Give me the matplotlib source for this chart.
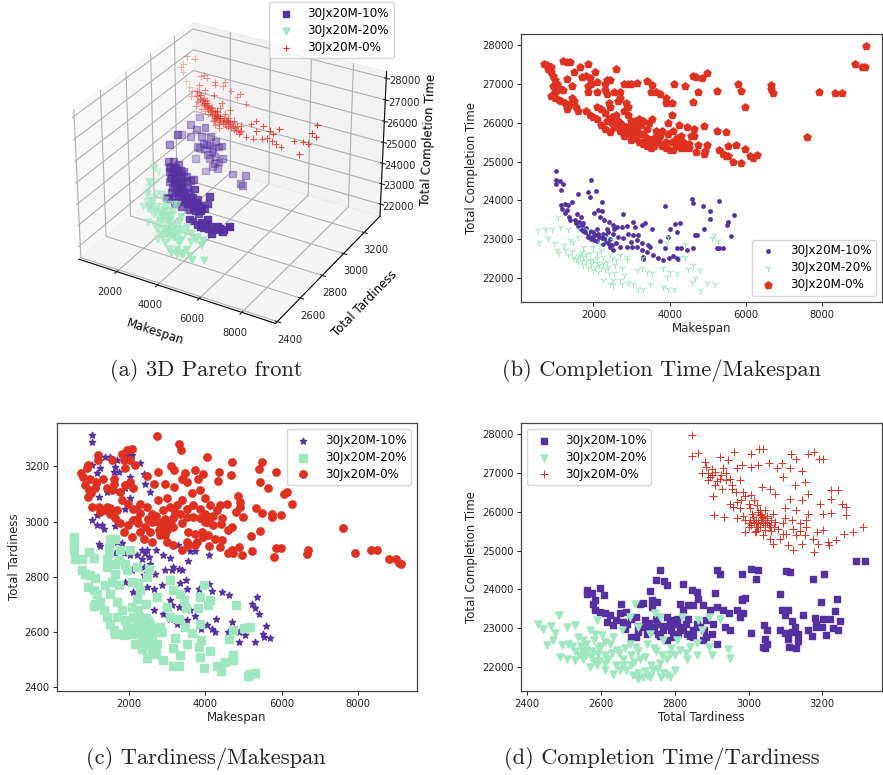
import numpy as np
import matplotlib
matplotlib.use('Agg')
import matplotlib.pyplot as plt

PURPLE = '#5530a0'
GREEN = '#9fe8bf'
RED = '#e03020'
NAMES = ['30Jx20M-10%', '30Jx20M-20%', '30Jx20M-0%']

# panel a: makespan, tardiness, completion time
a_purple = [(1053,3250,24443),(1148,3150,24528),(1360,3000,24798),(1456,3150,24377),(1895,3150,24597),(2163,3150,24244),(1848,3150,23535),(1598,3150,23559),(1984,3150,23812),(2421,3150,24079),
    (2584,3150,23839),(2249,3150,23506),(2759,3150,23317),(2376,3150,22970),(1902,3150,22454),(2119,3150,23135),(2536,3150,22777),(2728,3150,23928),(3289,3150,22705),(3935,3150,22793),
    (3708,3150,22347),(3811,3150,22281),(1379,3150,22925),(1496,3150,23578),(1128,3150,23950),(679,3150,23918),(940,3000,24200),(1192,2950,23658),(1439,2950,23728),(1692,2950,23657),
    (1215,2950,23188),(1462,2950,23258),(1715,2950,23187),(1955,2950,23398),(1239,2950,22718),(1493,2950,22647),(1739,2950,22717),(2115,2950,23205),(2467,2950,23162),(2399,2800,23019),
    (2059,2800,22827),(2416,2800,22690),(2719,2800,22633),(3057,2800,22872),(3286,2800,23271),(3538,2800,23247),(3710,2800,22819),(4042,2800,23152),(4122,2800,23556),(3573,2800,22542),
    (4368,2700,22637),(4267,2700,22656),(4596,2700,23083),(5105,2700,22894),(5314,2700,22715),(5647,2700,23048),(5358,2700,22823),(3861,2700,22779),(4613,2700,22650),(4777,2700,22467),
    (3708,2700,22831),(3303,2800,22942),(3367,2800,23675),(3446,2800,23078),(3557,2800,22871),(3664,2800,22711),(3418,2800,22641),(1933,2850,22834),(2278,2850,22932),(2525,2850,23002),
    (2759,2850,23307),(2107,2850,23360),(2419,2850,23115),(1650,2850,22515),(2055,2850,22392),(1300,2950,23450),(1550,2950,23500),(1800,2950,23400),(1350,2950,22950),(1600,2950,23000),
    (1850,2950,22900),(2000,2900,23100),(2250,2880,23000),(2600,2830,22800),(2900,2820,22750),(3200,2790,22700),(3500,2770,22900),(1250,2950,23400),(1450,2950,23400),(1650,2950,23350),
    (1850,2950,23300),(1350,2950,23100),(1550,2950,23100),(1800,2950,23050),(1300,2950,22850),(1500,2950,22850),(1700,2950,22850),(1900,2950,22900),(2100,2950,23000),(2300,2950,23050),
    (2000,2850,23100),(2200,2850,23100),(2400,2850,23000),(2600,2850,22900),(2800,2850,23100),(2900,2850,22950),(2300,2850,22750),(2600,2850,22600),(3000,2800,23100),(3200,2800,23000),
    (3400,2800,22900),(3500,2800,23000),(3600,2800,22700),(3300,2800,22800),(3700,2800,23000),(3900,2800,22900),(4500,2700,22800),(4800,2700,22800),(5000,2700,22700),(5200,2700,22850),
    (4300,2700,22850),(4100,2700,22700),(2100,3150,23800),(2300,3150,23700),(1800,3150,23800),(2000,3150,23300),(2400,3150,23300),(2600,3150,23100),(2250,3150,22800),(1700,3150,24100)]
a_green = [(1086,2850,23785),(874,2850,23010),(701,2850,22484),(1104,2750,22413),(1323,2750,23052),(1440,2750,23705),(984,2900,23320),(726,2900,23485),(859,2900,22808),(787,2850,22780),
    (959,2850,22319),(1358,2750,22347),(1616,2750,22182),(1886,2750,21782),(2120,2750,22087),(2918,2650,22137),(3430,2650,21901),(4223,2550,22040),(4728,2550,21945),(4457,2550,22345),
    (5186,2550,22790),(5300,2550,22100),(3149,2650,22536),(2878,2650,22936),(3402,2650,22465),(3888,2650,22746),(4404,2650,22416),(4071,2650,22083),(4658,2650,22345),(2679,2650,21926),
    (2416,2650,22185),(3619,2550,22107),(3976,2550,21970),(2332,2750,22862),(2825,2750,23002),(2062,2750,23262),(1646,2750,21700),(1647,2700,22055),(2439,2650,21715),(2372,2750,22063),
    (2595,2750,22603),(3618,2650,23146),(2677,2750,22960),(3531,2650,22883),(1500,2750,22600),(1750,2750,22450),(2000,2750,22350),(2250,2700,22300),(2500,2700,22200),(2750,2700,22400),
    (3000,2650,22250),(3250,2650,22100),(3500,2600,22400),(3800,2600,22250),(2200,2750,22550),(1900,2800,22700),(1500,2800,22900),(1250,2800,22500),(3100,2600,22000),(4000,2580,22500),
    (1400,2750,22500),(1500,2750,22350),(1700,2750,22300),(1850,2750,22150),(2000,2750,22200),(2150,2750,22250),(2300,2750,22150),(2450,2750,22350),(2600,2750,22450),(1300,2750,22700),
    (1600,2750,22800),(1800,2750,22600),(2000,2750,22500),(2200,2750,22700),(2400,2750,22600),(2700,2650,22300),(2900,2650,22350),(3100,2650,22300),(3300,2650,22200),(3500,2650,22250),
    (2600,2650,22000),(2800,2650,22050),(3000,2650,21950),(3300,2650,22650),(3600,2650,22550),(3800,2650,22450),(4100,2650,22500),(4300,2650,22250),(3700,2550,21950),(4000,2550,22200),
    (4300,2550,22150),(4600,2550,22100)]
a_red = [(830,3180,27600),(650,3180,27200),(510,3180,27000),(620,3180,26800),(790,3180,26400),(950,3180,26200),(1060,3180,26000),(1230,3180,27600),(2082,3050,26856),(2242,3050,26664),
    (2352,3050,26457),(2508,3050,26358),(2660,3050,26306),(2770,3050,26099),(2925,3050,26000),(2218,3050,27134),(2477,3050,26969),(2155,3050,26401),(2019,3050,26124),(3481,2980,26577),
    (3641,2980,26384),(3752,2980,26177),(3882,2980,26548),(4054,2980,26120),(4256,2980,26082),(4416,2980,25889),(4570,2980,25790),(4662,2980,25959),(3910,2980,25984),(3561,2980,25980),
    (4122,2980,26759),(3712,2980,26976),(3347,2980,27254),(2180,3100,27402),(2697,3100,27072),(3185,3100,27306),(3952,3100,26952),(4223,3100,26552),(5557,2900,26859),(5797,2900,27070),
    (6153,2900,26933),(6329,2900,26411),(6450,2900,26800),(6600,2900,26700),(6900,2900,27000),(7000,2900,26200),(6750,2900,26250),(7600,2900,26650),(7850,2900,26100),(8000,2900,26700),
    (8250,2900,26700),(8400,2900,27200),(8600,2900,27100),(8650,2900,27650),(5339,2900,26225),(5820,2900,26600),(6083,2900,26341),(5688,2900,26229),(6583,2900,26340),(2413,3050,26236),
    (2566,3050,26184),(2716,3050,26179),(2813,3050,26254),(2979,3050,25920),(3082,3050,25854),(3237,3050,25755),(2598,3050,26527),(2447,3050,26579),(2892,3050,25657),(4040,2980,26402),
    (4294,2980,26331),(4453,2980,26138),(4650,2980,26194),(3949,2980,26233),(3622,2980,26760),(3382,2980,26549),(1300,3180,25900),(1500,3180,25750),(1750,3180,25500),(2000,3180,25300),
    (1400,3120,26100),(1700,3120,25900),(2300,3050,26050),(2500,3050,26000),(2650,3050,25900),(2850,3050,25850),(3000,3050,25800),(3200,3000,25950),(3400,2980,25900),(3600,2980,25800),
    (2300,3050,26700),(2400,3050,26500),(2500,3050,26450),(2600,3050,26400),(2700,3050,26250),(2800,3050,26200),(2900,3050,26100),(3000,3050,26000),(3100,3050,25950),(2350,3050,26300),
    (2450,3050,26350),(2550,3050,26250),(2650,3050,26150),(2750,3050,26000),(2850,3050,25950),(2950,3050,25800),(3150,3050,25800),(2200,3050,26800),(2100,3050,26600),(2250,3050,26500),
    (3500,2980,26500),(3650,2980,26300),(3800,2980,26300),(3900,2980,26250),(4000,2980,26200),(4100,2980,26200),(4200,2980,26150),(4350,2980,26050),(4500,2980,25950),(3600,2980,26100),
    (3750,2980,26050),(3850,2980,26100),(4000,2980,25950),(4150,2980,25950),(4300,2980,25900),(3450,2980,26250),(3550,2980,26350),(4600,2980,25900),(2000,3150,27000),(2400,3150,26900),
    (2800,3150,26800),(3200,3150,26700),(3500,3150,26500),(1700,3150,27000)]

# panel b: makespan, completion time
b_purple = [(1020,24750),(1020,24520),(1130,24500),(1020,24420),(1210,24420),(1150,24260),(1940,24510),(1870,24220),(1910,24090),(2080,24240),(1590,24150),(2220,23950),(1150,23890),(1260,23900),(1430,23960),
    (1340,23880),(1170,23770),(1300,23750),(1260,23680),(1370,23570),(1580,23640),(1690,23570),(1390,23490),(1520,23490),(1630,23450),(1740,23400),(1610,23320),(1690,23270),(1780,23190),(1870,23140),
    (1960,23060),(2000,23190),(2090,23270),(2020,22970),(2130,23140),(2020,23660),(2130,23750),(2240,23730),(2170,23570),(2280,23490),(2420,23450),(2520,23360),(2610,23320),(2770,23640),(2740,23320),
    (2870,23330),(3030,23450),(3090,23320),(3270,23360),(3350,23400),(3530,23250),(3750,22960),(3880,23850),(3960,23060),(4010,23260),(4140,23380),(4270,23420),(4200,23170),(3880,22760),(4180,22780),
    (4290,22780),(4450,22710),(4620,22770),(4660,23090),(4710,23090),(4580,24030),(4620,23920),(4880,23860),(5060,23730),(5290,23970),(5060,23520),(4900,23270),(5690,23620),(5540,23450),(5510,23350),
    (5600,23080),(5230,22760),(5300,22760),(5400,22760),(3830,22470),(3990,22500),(3700,22520),(3570,22590),(3400,22670),(3270,22710),(3140,22800),(3010,22800),(2870,22800),(2700,22800),(2520,22710),
    (2440,22800),(2350,22930),(2220,23020),(2260,23140),(2390,23190),(2520,23140),(2650,23060),(2790,23020),(2920,23140),(3050,23100),(3180,23100),(3000,22930),(3140,22970),(3270,22890),(3440,22840),
    (3480,22800),(3290,22540),(3310,22480),(4100,22560),(4180,22500),(4230,22480),(1700,23350),(1800,23280),(1900,23200),(2050,23100),(2150,23050),(2300,23000),(2400,22880),(1850,23050),(2250,22870),
    (1730,23200),(1950,23000),(2100,22950),(2300,23100),(2450,23000),(2500,22850),(2600,22900),(2350,23250),(2550,23250),(1550,23400)]
b_green = [(560,23230),(585,22930),(730,23270),(910,23270),(825,23020),(960,22890),(1040,22710),(1090,22630),(1065,23570),(1130,23320),(1345,23270),(1610,23270),(1390,22970),(1220,22840),(1260,22710),
    (1480,22930),(1345,22590),(1480,22500),(1610,22410),(1740,22330),(1870,22240),(2000,22200),(2130,22150),(2260,21940),(2520,21940),(2520,21810),(2740,21850),(3050,21850),(3180,21720),(3310,21720),
    (3480,21850),(3830,21770),(3960,21720),(4110,21700),(4790,21680),(4990,21870),(5190,21850),(4660,21980),(4580,21900),(4790,22200),(4490,22220),(4620,22330),(4180,22110),(4010,22150),(3830,22240),
    (3920,22030),(3530,22110),(3400,22150),(3270,22240),(3140,22200),(2870,22460),(2740,22240),(2570,22330),(2390,22280),(2260,22370),(2090,22370),(1910,22460),(1740,22540),(1695,22670),(1910,22630),
    (2090,22630),(2260,22540),(2000,22800),(2170,22890),(2350,23060),(2520,22970),(2700,22590),(2870,22540),(3270,22500),(1610,23060),(1740,22800),(1870,23230),(5100,23020),(5160,23100),(5260,22960),
    (3960,23060),(3920,22890),(4400,22870),(4400,22530),(4270,22530),(1550,22480),(1800,22420),(2050,22280),(2300,22220),(2550,22120),(2800,22080),(1650,22600),(2200,22720),(2450,22620),(1450,22700),
    (1600,22550),(1800,22600),(1950,22350),(2200,22250),(2400,22120),(2600,22450),(2100,22500),(2350,22400),(2500,22500),(1700,22440),(2000,22450),(2150,22320),(2700,21950),(2900,21900),(2450,21830)]
b_red = [(700,27520),(780,27480),(880,27430),(800,27400),(900,27300),(950,27200),(1000,27100),(1050,27000),(1100,26900),(1000,26800),(950,26950),(1050,26850),(1200,26850),(900,26700),(1000,26650),
    (1100,26600),(1250,26500),(1300,26350),(1150,26550),(1450,26650),(1500,26550),(1350,26450),(1600,26300),(1550,26400),(1200,27600),(1300,27580),(1400,27580),(1650,27450),(1850,27520),(2050,27320),
    (1320,27120),(1500,27300),(1450,26950),(1700,27170),(1800,27200),(1900,27150),(2100,27050),(1950,27000),(1850,26950),(1850,26800),(2100,26800),(2350,27100),(2450,27100),(2300,27000),(2600,27400),
    (2300,26850),(2350,26750),(2550,26800),(2700,26800),(2800,27000),(2900,27000),(3000,27000),(3150,27030),(3400,27070),(3550,26970),(3500,26800),(3650,26800),(3750,26750),(3900,26650),(3900,26500),
    (4050,26500),(4120,27000),(4400,26950),(4600,27200),(4680,27170),(4850,27150),(4980,27280),(4750,26800),(4600,26530),(5230,26820),(5800,26990),(5860,26820),(5980,26400),(6650,26980),(6660,26870),
    (6720,26780),(7600,25630),(7920,26800),(8340,26780),(8510,26780),(8850,27510),(9050,27450),(9120,27430),(9150,27980),(1800,26300),(1900,26200),(2000,26150),(2100,26100),(2200,25950),(2300,25850),
    (2100,26400),(2200,26350),(2300,26250),(2400,26100),(2500,26000),(2600,25950),(2700,25800),(2800,25800),(2900,25900),(2450,25750),(2650,26050),(2750,25950),(2800,25650),(2950,25700),(3000,25550),
    (3100,25600),(3200,25500),(3300,25450),(3400,25400),(3500,25350),(3600,25400),(3150,25800),(3300,25700),(3400,25600),(3500,25550),(3600,25600),(3700,25500),(3800,25400),(3900,25350),(4000,25300),
    (4100,25300),(4200,25400),(4300,25350),(4400,25350),(4500,25350),(4700,25250),(4900,25200),(4930,25260),(3100,26050),(3200,26100),(3300,26050),(3450,26000),(3550,26100),(3250,25950),(3400,25850),
    (3650,25800),(3800,25800),(3950,25700),(4100,25800),(4200,25600),(4300,25650),(4350,25500),(4500,25450),(4550,25650),(4650,25650),(4650,25850),(4750,25430),(4900,25920),(4980,25420),(5230,25800),
    (5300,25300),(5480,25770),(5400,25190),(5480,25150),(5530,25140),(5520,25390),(5660,25000),(5750,25430),(5880,24960),(5980,25320),(6100,25150),(6180,25100),(6280,25160),(3950,25990),(4070,26200),
    (4250,25950),(4450,25880),(2800,26300),(2900,26400),(2850,26500),(2900,26200),(3000,26050),(2600,26200),(2400,26500),(2450,26400),(2650,26550),(2700,26650),(3000,25800),(3050,25700),(3200,25700),
    (3350,25550),(3500,25450),(3650,25500),(3750,25650),(3900,25500),(4050,25500),(4200,25500),(2550,25900),(2700,26000),(2850,25900),(3100,25900),(2350,26050),(2500,26150)]

# panel c: makespan, tardiness
c_purple = [(1030,3316),(1030,3290),(1030,3205),(1165,3177),(1250,3193),(1380,3235),(1510,3235),(1685,3223),(1640,3199),(1600,3180),(1730,3180),(1990,3241),(2080,3241),(2280,3211),(2400,3172),
    (2425,3136),(2540,3108),(2035,3162),(1905,3120),(1640,3114),(1165,3132),(1210,3090),(1425,3108),(2035,3084),(2210,3053),(1905,3044),(1030,3007),(1165,3023),(1165,2987),(1295,2987),(1355,2971),
    (1640,2983),(1210,2920),(1685,2926),(1815,2923),(1250,2910),(1640,2884),(1860,2886),(2035,2880),(2210,2878),(2340,2896),(2425,2884),(2470,2896),(2340,2865),(2515,2871),(2385,2835),(2555,2845),
    (2715,2896),(2905,2879),(3080,2868),(3280,2914),(3600,2893),(3730,2892),(3560,2857),(4110,2878),(2080,2823),(2385,2805),(2690,2811),(2950,2825),(3125,2823),(3165,2835),(3300,2829),(3385,2823),
    (3500,2789),(3340,2775),(3515,2756),(3845,2754),(4105,2772),(4185,2747),(4445,2743),(4620,2732),(5360,2724),(5235,2700),(5300,2686),(5405,2663),(5590,2619),(5520,2590),(5545,2581),(5700,2577),
    (5290,2561),(5050,2587),(4875,2562),(4890,2599),(4690,2633),(4585,2599),(4280,2645),(4255,2599),(4170,2611),(4040,2623),(3890,2611),(3740,2657),(3600,2680),(3300,2690),(3080,2714),(3125,2696),
    (2645,2678),(2905,2663),(3080,2647),(3255,2629),(3515,2641),(2120,2744),(2250,2738),(2470,2762),(2645,2756),(2860,2768),(2470,2702),(1905,2781)]
c_green = [(555,2944),(575,2926),(555,2896),(600,2865),(770,2862),(945,2890),(1075,2868),(770,2825),(860,2811),(990,2805),(1120,2793),(925,2762),(1075,2750),(1380,2768),(1165,2738),
    (1120,2702),(1250,2708),(1075,2692),(1340,2678),(1425,2653),(1510,2629),(1600,2605),(1640,2590),(1860,2587),(1510,2938),(1640,2938),(1470,2908),(1470,2884),(1775,2896),(2035,2896),(1425,2865),
    (1640,2847),(1900,2847),(1425,2835),(1640,2811),(1950,2823),(2210,2835),(2515,2829),(1730,2768),(1510,2738),(1685,2708),(1815,2678),(1685,2653),(1900,2641),(2120,2653),(2295,2653),(2080,2690),
    (2210,2720),(2080,2781),(2250,2775),(2470,2799),(2730,2726),(2555,2629),(2820,2617),(2860,2599),(2120,2593),(2295,2605),(2165,2556),(2340,2538),(2470,2505),(2645,2532),(2730,2556),(2905,2496),
    (3165,2474),(3315,2474),(3340,2516),(3165,2542),(3210,2575),(3515,2556),(3645,2593),(3860,2629),(3890,2571),(3840,2544),(3850,2508),(3970,2469),(4125,2530),(4300,2474),(4400,2456),(4520,2490),
    (4720,2514),(4735,2496),(4630,2572),(4735,2605),(5015,2613),(5170,2617),(5130,2439),(5170,2447),(5300,2451),(4805,2696),(4125,2714),(4080,2696),(3975,2771),(3860,2726),(3820,2684),(3500,2684),
    (3455,2714),(3340,2738),(3080,2787),(3165,2750),(2990,2690),(3300,2647),(3470,2617),(3080,2653),(2300,2600),(2400,2570),(2500,2600),(2600,2570),(2700,2600),(2250,2680),(2450,2650),(1950,2620),
    (2400,2620),(2500,2550),(2600,2530),(2700,2520),(2200,2630),(2350,2570),(2500,2640),(2650,2610),(2050,2610),(1800,2590),(1950,2590),(2150,2590),(2450,2700),(2300,2750),(1750,2860),(1550,2780)]
c_red = [(2730,3310),(3320,3283),(3370,3260),(4040,3235),(4690,3215),(5480,3217),(5410,3190),(5850,3180),(5430,3145),(5650,3122),(6070,3100),(6150,3108),(6270,3063),(4350,3180),(4670,3170),
    (4340,3148),(5320,3050),(5490,3032),(5740,3027),(5740,3015),(5970,3023),(4850,3092),(4910,3072),(4910,3053),(4800,3034),(4990,3017),(5430,2965),(5190,2947),(7610,2975),(7920,2886),(8330,2897),
    (8500,2895),(8810,2864),(9000,2864),(9070,2850),(9120,2847),(6700,2898),(6670,2881),(5850,2905),(5980,2902),(5800,2870),(5210,2893),(4970,2880),(4870,2908),(4690,2896),(4600,2886),(4730,2886),
    (4110,2910),(4390,2908),(3385,2898),(3730,2914),(3560,2914),(755,3177),(905,3193),(920,3205),(800,3162),(990,3156),(860,3132),(950,3114),(1010,3102),(925,3090),(1200,3240),(1180,3222),
    (1555,3225),(1815,3247),(1950,3259),(2080,3262),(1860,3223),(2035,3223),(2165,3205),(1900,3193),(1320,3156),(1145,3144),(1120,3120),(1425,3120),(1615,3156),(1600,3138),(1555,3114),(1775,3108),
    (1900,3132),(2035,3144),(2120,3120),(2470,3165),(2645,3138),(2760,3180),(3100,3201),(3170,3187),(3470,3175),(3730,3187),(3930,3172),(3820,3156),(3385,3153),(2950,3138),(3170,3126),(3515,3144),
    (3860,3114),(3645,3102),(4005,3084),(4125,3060),(4385,3060),(4560,3063),(1030,3053),(1210,3053),(1250,3035),(1425,3053),(1510,3029),(1640,3011),(1775,2993),(1815,3078),(1990,3065),(2120,3047),
    (2295,3065),(2470,3053),(2600,3029),(2775,3078),(2990,3084),(2905,3041),(3080,3053),(3255,3060),(3385,3078),(3515,3047),(3690,3060),(3860,3047),(3990,3029),(4125,3017),(4300,3041),(4430,3011),
    (4210,2987),(4035,2999),(3860,3011),(3690,3017),(3515,3017),(3340,3029),(3165,3011),(3035,2993),(2905,2981),(2775,2999),(2600,2999),(2425,2981),(2250,2993),(2120,3005),(1990,2987),(1860,2963),
    (2080,2944),(2295,2963),(2555,2963),(2820,2950),(2990,2968),(3165,2981),(3385,2993),(3560,2963),(3730,2956),(3905,2963),(4080,2950),(4255,2938),(4430,2932),(4600,2968),(4690,2981),(2990,2926),
    (3165,2914),(2600,2926),(2385,2938),(3515,2926),(3775,2926),(3950,2944),(2700,3020),(2850,3000),(2950,3010),(3100,2990),(2800,2970),(2950,2950),(3200,3030),(2500,3010),(2300,3030),(2200,3010),
    (1700,3040),(1500,3050),(1350,3040),(4000,3000),(4200,3020),(4400,2990)]

# panel d: tardiness, completion time
d_purple = [(2561,23980),(2561,23870),(2576,23910),(2597,24040),(2609,23850),(2579,23630),(2585,23720),(2584,23460),(2597,23420),(2611,23380),(2624,23330),(2615,23160),(2633,23070),(2653,23630),(2651,23380),
    (2669,23420),(2660,23160),(2682,23250),(2696,23290),(2665,22990),(2682,22770),(2696,22770),(2705,23620),(2714,23640),(2733,23950),(2737,23720),(2751,23680),(2737,23550),(2748,24240),(2760,24510),
    (2770,24220),(2778,24110),(2822,24150),(2814,23630),(2823,23460),(2847,23980),(2860,23940),(2864,23760),(2850,23590),(2877,23590),(2837,23590),(2908,23910),(2914,24490),(2923,24400),(2981,24390),
    (3006,24520),(3027,24490),(3019,24260),(3102,24480),(3113,24460),(3176,24260),(3206,24410),(3291,24740),(3317,24740),(3085,23880),(2981,23760),(2990,23790),(2981,23720),(3196,23670),(3239,23760),
    (3234,23440),(2970,23480),(2985,23380),(2976,23290),(2948,23380),(2932,23460),(2914,23550),(2896,23460),(3090,23460),(3106,23480),(3099,23330),(3148,23350),(3180,23270),(3202,23250),(3220,23250),
    (3249,23190),(3184,23120),(3184,23030),(3198,23030),(3117,23190),(3126,23030),(3043,23070),(3051,22950),(3007,22870),(3085,22960),(3099,22880),(3117,22900),(3135,22860),(3162,22960),(3171,22790),
    (3209,22820),(3228,23010),(3244,22950),(3108,22730),(3135,22670),(3110,22520),(3130,22480),(3045,22730),(3049,22600),(3040,22520),(3045,22500),(2950,22960),(2936,23030),(2914,22600),(2877,22690),
    (2886,22770),(2900,22860),(2904,23120),(2886,23200),(2868,23030),(2850,22770),(2832,22860),(2814,22950),(2796,22770),(2778,22690),(2769,22950),(2751,23120),(2733,23030),(2715,23030),(2787,23200),
    (2805,23120),(2823,23030),(2778,23290),(2755,22860),(2724,22860),(2837,23250),(2805,23250),(2770,23050),(2790,22950),(2830,23120),(2850,22950),(2860,23100),(2720,23200),(2745,22950),(2700,23060),
    (2640,23200),(2670,23100),(2750,23250),(2790,23080),(2810,22850),(2840,22800),(2880,22950),(2760,22800),(2730,23130),(2700,22900)]
d_green = [(2430,23120),(2443,22990),(2464,23050),(2475,22880),(2486,23330),(2470,22690),(2454,22560),(2507,23030),(2529,23070),(2511,22600),(2493,22560),(2489,22260),(2507,22210),(2529,22170),(2538,22770),
    (2552,22690),(2570,22950),(2588,23200),(2584,22860),(2602,22820),(2552,22390),(2574,22260),(2570,22000),(2593,22340),(2611,22300),(2588,22040),(2611,21910),(2633,21830),(2651,21910),(2669,21910),
    (2687,21790),(2701,21700),(2714,21740),(2732,21740),(2755,21960),(2764,21740),(2787,21740),(2801,21910),(2741,21910),(2624,22600),(2642,22430),(2660,22210),(2682,22300),(2705,22210),(2679,22600),
    (2696,22520),(2724,22600),(2633,22770),(2656,22950),(2679,23290),(2692,23620),(2701,23030),(2733,22860),(2746,23380),(2760,23290),(2769,22690),(2787,22340),(2805,22690),(2819,23290),(2841,22520),
    (2864,23200),(2873,22950),(2892,23290),(2892,22520),(2901,22300),(2923,23250),(2945,22470),(2950,22240),(2859,22300),(2832,22210),(2778,22210),(2540,22300),(2560,22450),(2580,22150),(2610,22100),
    (2640,22050),(2680,22050),(2720,21900),(2770,21850),(2520,22550),(2560,22600),(2600,22550),(2650,22350),(2700,22400),(2750,22400),(2790,22500),(2830,22350),(2860,22620),(2530,22400),(2550,22200),
    (2575,22400),(2595,22480),(2620,22200),(2630,22350),(2610,22650),(2580,22700),(2545,22550),(2665,22500),(2690,22120),(2720,22250),(2745,22500),(2765,22300),(2800,22300),(2815,22450),(2735,22050),
    (2660,22050),(2700,21850),(2780,21800),(2760,22100),(2725,21800),(2595,22150),(2560,22300)]
d_red = [(2848,27990),(2848,27430),(2864,27520),(2882,27290),(2873,26990),(2891,26820),(2909,27030),(2924,27420),(2961,27550),(3008,27480),(3029,27610),(3038,27610),(3115,27500),(3162,27500),(3177,27550),
    (3191,27350),(3203,27350),(3130,27360),(3091,27250),(3076,27120),(3112,27140),(3144,27050),(3094,26900),(3056,27250),(3027,27200),(3008,27160),(2981,27200),(2968,27120),(2945,27330),(2931,27120),
    (2922,26860),(2940,26820),(2976,26820),(2954,26600),(2927,26600),(2903,26410),(2986,26510),(3008,26430),(3036,26640),(3058,26600),(3072,26470),(3126,26690),(3153,26770),(3162,26470),(3112,26340),
    (3144,26300),(3223,26570),(3242,26570),(3225,26320),(3253,26210),(3264,26130),(3264,25930),(3225,25980),(3203,25950),(3194,26190),(3162,25950),(2906,25930),(2933,25870),(2958,26130),(2976,26090),
    (2968,25830),(2990,25780),(3004,26090),(3022,26170),(3045,26040),(3067,25950),(3099,26090),(3130,26040),(3013,25870),(3031,25910),(3049,25830),(3072,25740),(3094,25700),(3117,25780),(3139,25700),
    (3157,25780),(3008,25660),(3027,25740),(3040,25700),(3058,25610),(2990,25480),(3017,25480),(3040,25400),(3058,25310),(3067,25180),(3085,25310),(3103,25440),(3130,25400),(3153,25400),(3176,25310),
    (3185,25480),(3203,25530),(3144,25180),(3106,25140),(3121,25010),(3178,24970),(3189,25180),(3215,25220),(3219,25140),(3236,25280),(3260,25440),(3282,25470),(3311,25610),(3022,25610),(3036,25870),
    (3094,25440),(3045,25530),(2890,27000),(2900,26950),(2915,26800),(2950,26850),(2990,26400),(3020,25800),(3035,25800),(3045,25650),(3025,25600),(3010,25950),(3030,26050),(3050,25720),(3000,25700),(3060,25500),
    (3020,25700),(3030,25600),(3040,25800),(3015,25750),(3035,25950),(3050,25900),(3060,25800),(3005,25800),(3025,26000),(3045,25750),(3055,25650),(3070,25600),(2985,25900),(3000,25600),(3020,25500),(2895,26900),
    (2910,26700),(2925,26950),(2940,27000),(2955,26700),(2900,27100),(2885,27150),(2965,26500),(2980,26300),(3000,26200),(2970,26250),(3015,26300),(2950,26200),(3080,25550),(3120,25550),(3140,25500),(3155,25600),(3100,25850)]


def arr(points):
    return np.array(points, dtype=float).T


def place(fig, left, top, right, bottom):
    W, H = fig.get_size_inches() * fig.dpi
    return [left / W, 1 - bottom / H, (right - left) / W, (bottom - top) / H]


def style(ax, xlabel, ylabel, xlim, ylim, xticks, yticks):
    ax.set_xlim(xlim)
    ax.set_ylim(ylim)
    ax.set_xticks(xticks)
    ax.set_yticks(yticks)
    ax.tick_params(labelsize=7.2, length=3, pad=2.5, width=0.7, colors='#222222')
    ax.set_xlabel(xlabel, fontsize=8.5, labelpad=2, color='#222222')
    ax.set_ylabel(ylabel, fontsize=8.5, labelpad=2.5, color='#222222')
    for s in ax.spines.values():
        s.set_color('#444444')
        s.set_linewidth(0.9)


plt.rcParams['legend.fontsize'] = 8.6
plt.rcParams['legend.labelspacing'] = 0.33
fig = plt.figure(figsize=(8.83, 7.75), dpi=100)

# a
ax = fig.add_axes(place(fig, 21.5, -4.5, 433.5, 345.5), projection='3d')
x, y, z = arr(a_purple)
ax.scatter(x, y, z, marker='s', s=24, color=PURPLE, label=NAMES[0])
x, y, z = arr(a_green)
ax.scatter(x, y, z, marker='v', s=24, color=GREEN, label=NAMES[1])
x, y, z = arr(a_red)
ax.scatter(x, y, z, marker='+', s=22, color=RED, linewidths=0.8, label=NAMES[2])
ax.set_xlim(100, 9550)
ax.set_ylim(2385, 3360)
ax.set_zlim(21400, 28300)
ax.set_xticks([2000, 4000, 6000, 8000])
ax.set_yticks([2400, 2600, 2800, 3000, 3200])
ax.set_zticks([22000, 23000, 24000, 25000, 26000, 27000, 28000])
ax.tick_params(labelsize=7.2, pad=0, colors='#222222')
ax.set_xlabel('Makespan', fontsize=8.5, labelpad=0)
ax.set_ylabel('Total Tardiness', fontsize=8.5, labelpad=2)
ax.set_zlabel('Total Completion Time', fontsize=8.5, labelpad=-1)
ax.legend(loc='upper left', bbox_to_anchor=(269 / 883, 1 - 2 / 775), bbox_transform=fig.transFigure,
          borderaxespad=0)

# b
ax = fig.add_axes(place(fig, 521, 34, 882, 302))
x, y = arr(b_purple)
ax.scatter(x, y, marker='o', s=6, color=PURPLE, label=NAMES[0])
x, y = arr(b_green)
ax.scatter(x, y, marker='1', s=28, color=GREEN, linewidths=0.8, label=NAMES[1])
x, y = arr(b_red)
ax.scatter(x, y, marker='p', s=28, color=RED, label=NAMES[2])
style(ax, 'Makespan', 'Total Completion Time', (105, 9564), (21373, 28292),
      [2000, 4000, 6000, 8000], [22000, 23000, 24000, 25000, 26000, 27000, 28000])
ax.legend(loc='lower right', borderaxespad=0.5)

# c
ax = fig.add_axes(place(fig, 57, 423, 417, 691))
x, y = arr(c_purple)
ax.scatter(x, y, marker='*', s=22, color=PURPLE, label=NAMES[0])
x, y = arr(c_green)
ax.scatter(x, y, marker='s', s=26, color=GREEN, label=NAMES[1])
x, y = arr(c_red)
ax.scatter(x, y, marker='o', s=28, color=RED, label=NAMES[2])
style(ax, 'Makespan', 'Total Tardiness', (119, 9541), (2384, 3358),
      [2000, 4000, 6000, 8000], [2400, 2600, 2800, 3000, 3200])
ax.legend(loc='upper right', borderaxespad=0.5)

# d
ax = fig.add_axes(place(fig, 521, 423, 882, 691))
x, y = arr(d_purple)
ax.scatter(x, y, marker='s', s=24, color=PURPLE, label=NAMES[0])
x, y = arr(d_green)
ax.scatter(x, y, marker='v', s=26, color=GREEN, label=NAMES[1])
x, y = arr(d_red)
ax.scatter(x, y, marker='+', s=26, color=RED, linewidths=0.7, label=NAMES[2])
style(ax, 'Total Tardiness', 'Total Completion Time', (2383, 3362), (21381, 28291),
      [2400, 2600, 2800, 3000, 3200], [22000, 23000, 24000, 25000, 26000, 27000, 28000])
ax.legend(loc='upper left', borderaxespad=0.5)

captions = ['(a) 3D Pareto front', '(b) Completion Time/Makespan', '(c) Tardiness/Makespan', '(d) Completion Time/Tardiness']
cap_x = [206, 662, 206, 662]
cap_y = [370, 370, 758, 758]
for t, cx, cy in zip(captions, cap_x, cap_y):
    fig.text(cx / 883, 1 - cy / 775, t, family='cmr10', fontsize=16.2, ha='center', va='center', color='#222222')

fig.savefig('out.png', dpi=100)
